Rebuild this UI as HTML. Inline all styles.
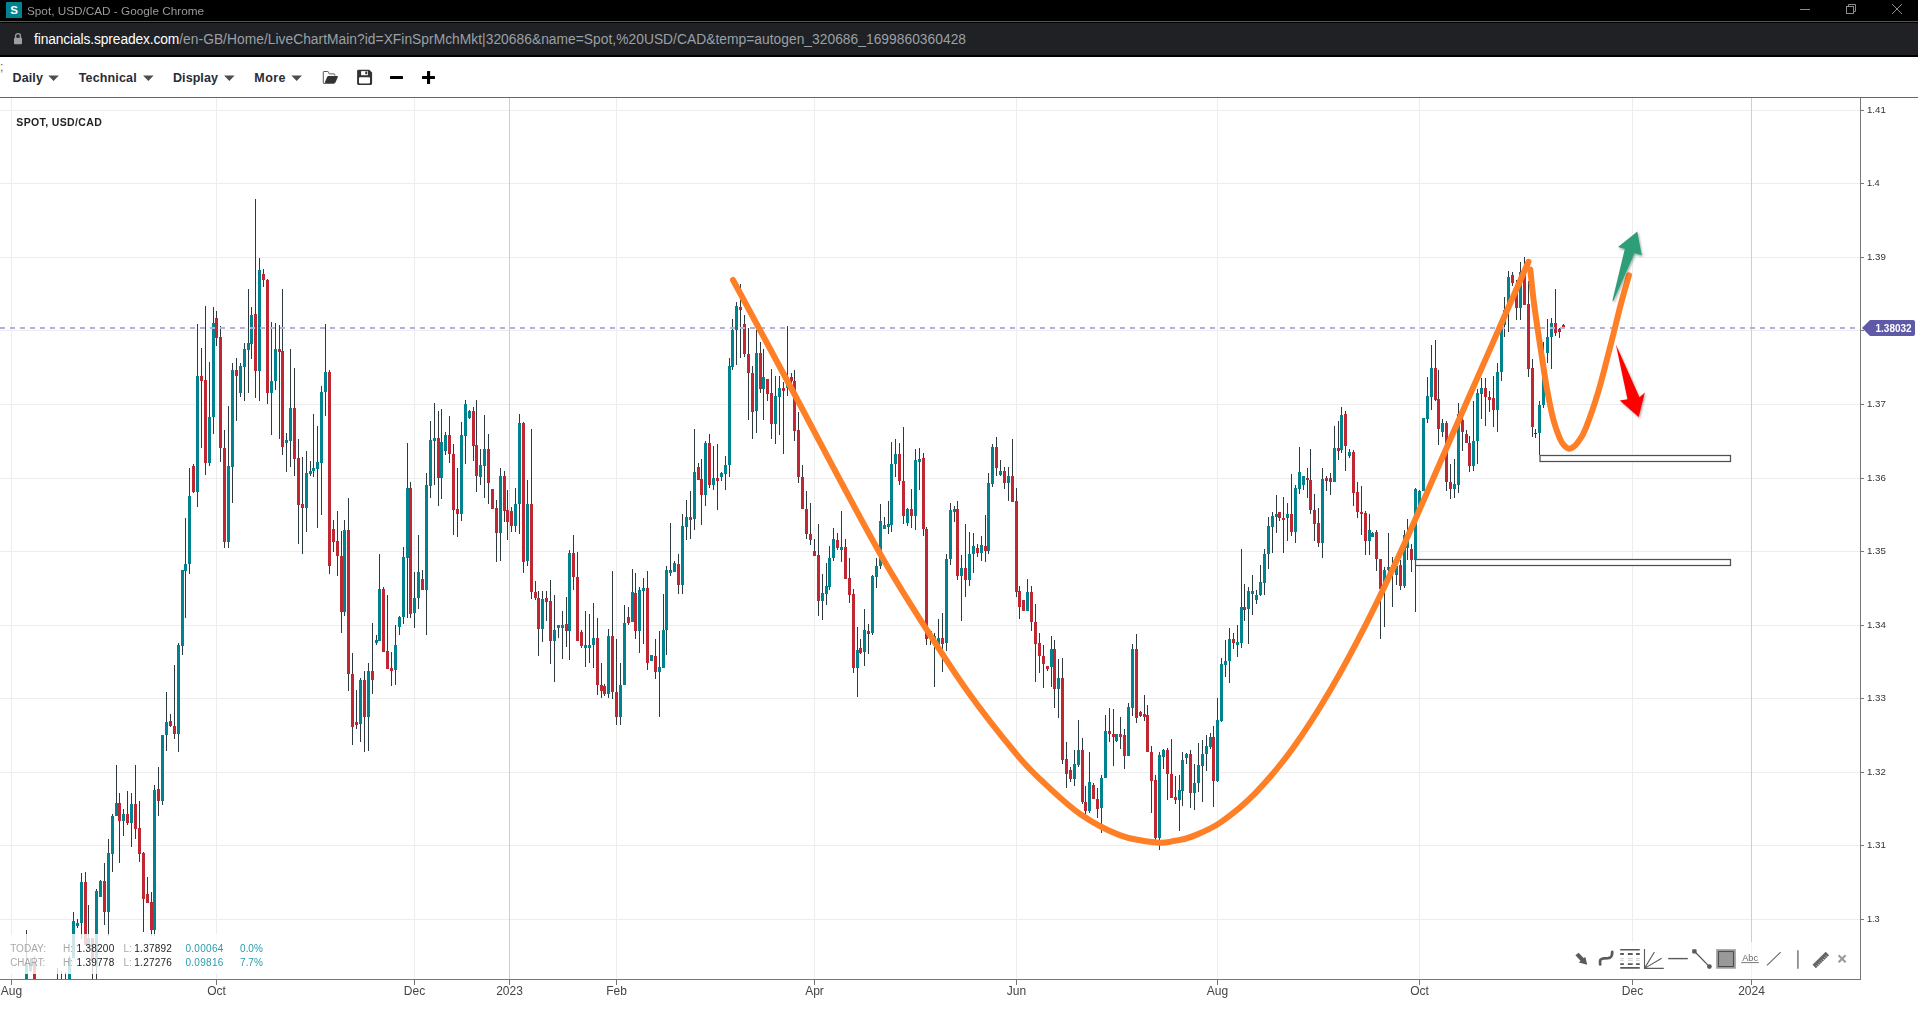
<!DOCTYPE html>
<html><head><meta charset="utf-8"><title>Spot, USD/CAD</title>
<style>
html,body{margin:0;padding:0}
body{width:1918px;height:1012px;overflow:hidden;background:#fff;position:relative;font-family:"Liberation Sans",sans-serif}
.abs{position:absolute;white-space:nowrap}
#tb{left:0;top:0;width:1918px;height:21px;background:#000}
#tl{left:0;top:21px;width:1918px;height:1px;background:#555}
#ab{left:0;top:22px;width:1918px;height:35px;background:#000}
#ab2{left:0;top:23px;width:1918px;height:32px;background:#202124}
#fav{left:6px;top:2px;width:16px;height:16px;background:#00838f;color:#fff;font-weight:bold;font-size:11.5px;line-height:16.5px;text-align:center}
#ttl{left:27px;top:3px;font-size:11.75px;line-height:15px;color:#9b9b9b}
#url{left:34px;top:30px;font-size:13.81px;line-height:18px;color:#9aa0a6}
#url b{font-weight:normal;color:#fff;letter-spacing:-0.12px}#url{letter-spacing:0.027px}
.mi{top:70px;font-size:12.5px;line-height:16px;font-weight:bold;color:#2b2b33}
.ar{top:76px;width:0;height:0;border-left:4.6px solid transparent;border-right:4.6px solid transparent;border-top:5.6px solid #555}
#tbl{left:0;top:97px;width:1918px;height:1px;background:#666}
#ct{left:16.2px;top:115px;letter-spacing:0.35px;font-size:10.5px;line-height:14px;font-weight:bold;color:#222}
.inf{font-size:10px;line-height:12px}
</style></head><body>
<div class="abs" id="tb"></div><div class="abs" id="tl"></div><div class="abs" id="ab"></div><div class="abs" id="ab2"></div>
<div class="abs" id="fav">S</div>
<svg class="abs" style="left:13px;top:32px" width="10" height="13" viewBox="0 0 10 13"><path d="M2.6 6V4A2.4 2.4 0 0 1 7.4 4V6" fill="none" stroke="#9aa0a6" stroke-width="1.4"/><rect x="1" y="5.8" width="8" height="6.4" rx="0.9" fill="#9aa0a6"/></svg>
<div class="abs" id="url"><b>financials.spreadex.com</b>/en-GB/Home/LiveChartMain?id=XFinSprMchMkt|320686&amp;name=Spot,%20USD/CAD&amp;temp=autogen_320686_1699860360428</div>
<div class="abs" style="left:0;top:60px;font-size:12px;line-height:14px;color:#7a4a2a">;</div>
<div class="abs mi" id="m1" style="left:12.5px;letter-spacing:0.12px">Daily</div>
<div class="abs mi" id="m2" style="left:78.7px;letter-spacing:0.16px">Technical</div>
<div class="abs mi" id="m3" style="left:173px;letter-spacing:0.07px">Display</div>
<div class="abs mi" id="m4" style="left:254.3px;letter-spacing:0.42px">More</div>
<div class="abs" id="tbl"></div>
<svg width="1918" height="1012" viewBox="0 0 1918 1012" style="position:absolute;left:0;top:0;will-change:transform" font-family="Liberation Sans, sans-serif">
<defs><clipPath id="cp"><rect x="0" y="98" width="1860" height="881"/></clipPath></defs>
<path d="M0 110.5H1860" stroke="#ededed" stroke-width="1"/>
<path d="M0 183.5H1860" stroke="#ededed" stroke-width="1"/>
<path d="M0 257.5H1860" stroke="#ededed" stroke-width="1"/>
<path d="M0 330.5H1860" stroke="#ededed" stroke-width="1"/>
<path d="M0 404.5H1860" stroke="#ededed" stroke-width="1"/>
<path d="M0 478.5H1860" stroke="#ededed" stroke-width="1"/>
<path d="M0 551.5H1860" stroke="#ededed" stroke-width="1"/>
<path d="M0 625.5H1860" stroke="#ededed" stroke-width="1"/>
<path d="M0 698.5H1860" stroke="#ededed" stroke-width="1"/>
<path d="M0 772.5H1860" stroke="#ededed" stroke-width="1"/>
<path d="M0 845.5H1860" stroke="#ededed" stroke-width="1"/>
<path d="M0 919.5H1860" stroke="#ededed" stroke-width="1"/>
<path d="M11.5 98V979" stroke="#ededed" stroke-width="1"/>
<path d="M216.5 98V979" stroke="#ededed" stroke-width="1"/>
<path d="M414.5 98V979" stroke="#ededed" stroke-width="1"/>
<path d="M509.5 98V979" stroke="#cfcfcf" stroke-width="1"/>
<path d="M616.5 98V979" stroke="#ededed" stroke-width="1"/>
<path d="M814.5 98V979" stroke="#ededed" stroke-width="1"/>
<path d="M1016.5 98V979" stroke="#ededed" stroke-width="1"/>
<path d="M1217.5 98V979" stroke="#ededed" stroke-width="1"/>
<path d="M1419.5 98V979" stroke="#ededed" stroke-width="1"/>
<path d="M1632.5 98V979" stroke="#ededed" stroke-width="1"/>
<path d="M1751.5 98V979" stroke="#cfcfcf" stroke-width="1"/>
<g clip-path="url(#cp)" shape-rendering="crispEdges">
<path d="M26.5 930.0V990.0M30.5 958.0V972.0M34.5 955.5V990.0M57.5 967.5V990.0M61.5 970.5V990.0M65.5 971.5V990.0M69.5 955.5V990.0M73.5 912.2V957.5M77.5 919.2V927.7M81.5 873.0V938.5M85.5 872.0V944.5M88.5 905.0V948.5M92.5 938.4V990.0M96.5 889.1V990.0M100.5 879.5V896.5M104.5 863.0V924.6M108.5 839.0V936.4M112.5 813.9V872.0M116.5 765.1V815.9M119.5 793.2V862.8M123.5 808.9V835.9M127.5 790.8V824.7M131.5 792.8V847.0M135.5 765.1V839.0M139.5 800.8V861.8M143.5 851.8V931.6M147.5 877.1V903.0M151.5 892.1V936.4M154.5 784.8V936.4M158.5 767.1V815.9M162.5 735.0V805.2M166.5 692.1V750.7M170.5 714.2V726.6M174.5 665.0V738.6M178.5 642.9V751.7M182.5 570.1V655.0M185.5 518.2V617.8M189.5 468.0V573.7M193.5 464.4V493.1M197.5 324.0V507.1M201.5 348.1V448.0M205.5 306.0V475.0M209.5 362.1V466.0M213.5 307.0V433.9M216.5 311.0V346.1M220.5 326.0V461.8M224.5 429.9V547.6M228.5 405.8V547.6M232.5 363.1V503.1M236.5 358.1V420.9M240.5 363.2V396.8M244.5 343.1V400.8M248.5 288.9V392.8M251.5 307.0V359.1M255.5 199.0V397.8M259.5 257.8V400.8M263.5 268.9V286.9M267.5 278.9V403.8M271.5 322.0V434.9M275.5 323.0V389.7M279.5 325.0V438.9M282.5 288.9V455.0M286.5 432.9V471.8M290.5 349.0V467.0M294.5 368.1V475.8M298.5 438.9V544.4M302.5 457.0V553.6M306.5 451.0V531.6M310.5 461.0V476.0M313.5 413.8V477.0M317.5 425.9V528.0M321.5 385.8V515.2M325.5 324.0V415.9M329.5 370.1V573.7M333.5 520.2V551.6M337.5 511.2V575.7M341.5 531.2V632.9M344.5 520.2V615.8M348.5 498.1V690.9M352.5 653.0V744.6M356.5 690.1V728.6M360.5 678.4V741.6M364.5 671.0V751.7M368.5 663.0V750.7M372.5 622.9V694.1M376.5 634.9V644.9M379.5 554.0V640.9M383.5 587.2V652.0M387.5 595.2V669.0M391.5 652.0V686.1M395.5 624.9V684.9M399.5 615.8V634.9M403.5 547.0V623.9M407.5 442.9V618.3M410.5 482.1V618.3M414.5 571.7V627.9M418.5 535.2V608.8M422.5 570.1V589.8M426.5 473.0V634.9M430.5 420.9V498.1M434.5 402.8V485.1M438.5 410.8V506.1M441.5 408.8V499.1M445.5 431.9V455.0M449.5 415.9V463.0M453.5 443.9V535.2M457.5 468.0V537.2M461.5 421.9V521.2M465.5 399.8V464.0M469.5 410.2V418.9M473.5 406.8V461.0M476.5 399.8V492.1M480.5 449.0V485.1M484.5 414.7V498.0M488.5 433.8V504.0M492.5 489.0V509.0M496.5 500.0V562.2M500.5 467.9V561.2M504.5 470.9V522.0M507.5 490.0V540.1M511.5 507.0V532.1M515.5 488.0V532.1M519.5 414.1V534.1M523.5 421.7V573.2M527.5 479.9V566.2M531.5 428.8V598.8M535.5 580.7V599.8M538.5 590.8V656.0M542.5 590.8V641.9M546.5 590.8V620.9M550.5 579.7V664.0M554.5 594.8V682.1M558.5 624.9V637.9M562.5 610.8V659.0M566.5 596.8V646.9M569.5 549.6V660.0M573.5 535.1V589.8M577.5 551.6V640.9M581.5 629.9V647.9M585.5 610.8V667.0M589.5 613.8V663.0M593.5 602.8V668.0M597.5 617.8V694.9M601.5 663.0V698.1M604.5 684.1V696.1M608.5 628.9V698.1M612.5 570.7V699.1M616.5 638.9V725.2M620.5 663.0V725.2M624.5 604.8V685.1M628.5 606.8V624.9M632.5 568.7V621.9M635.5 572.7V638.9M639.5 586.8V653.0M643.5 577.7V643.9M647.5 570.7V670.0M651.5 655.0V661.0M655.5 638.9V679.0M659.5 630.9V717.2M663.5 593.8V668.0M666.5 565.7V655.0M670.5 523.1V575.7M674.5 560.6V571.7M678.5 553.6V593.8M682.5 514.0V593.8M686.5 500.0V540.1M690.5 491.0V539.1M694.5 428.8V530.1M698.5 462.9V479.9M701.5 458.9V525.1M705.5 440.8V506.0M709.5 433.8V487.9M713.5 445.8V490.0M717.5 443.8V510.0M721.5 471.9V480.9M725.5 455.8V490.0M729.5 357.9V476.9M732.5 318.8V370.0M736.5 301.8V365.0M740.5 283.7V357.9M744.5 314.8V356.9M748.5 327.8V420.1M752.5 366.0V439.2M756.5 329.9V433.2M760.5 341.9V393.1M763.5 348.9V420.1M767.5 379.0V401.1M771.5 369.0V439.2M775.5 376.0V444.2M779.5 376.0V435.2M783.5 382.0V453.8M787.5 325.8V396.1M791.5 373.0V383.0M794.5 370.0V441.2M798.5 412.1V482.9M802.5 464.9V509.0M806.5 491.0V539.1M810.5 503.0V545.1M814.5 539.1V556.2M818.5 524.1V615.8M822.5 573.7V619.9M826.5 562.7V604.8M829.5 545.6V589.8M833.5 528.1V560.7M837.5 533.1V550.1M841.5 511.0V562.2M845.5 539.1V578.7M849.5 557.7V602.8M853.5 588.6V672.9M857.5 626.8V697.0M860.5 638.8V653.8M864.5 608.7V665.9M868.5 623.7V653.8M872.5 575.1V634.8M876.5 558.0V588.1M880.5 503.9V569.1M884.5 516.9V528.9M888.5 500.9V534.0M891.5 441.7V532.0M895.5 438.7V476.8M899.5 442.7V484.8M903.5 426.6V523.9M907.5 507.9V525.9M911.5 488.8V527.9M915.5 448.7V530.0M919.5 447.7V489.8M923.5 452.7V536.0M926.5 526.9V644.8M930.5 630.8V644.8M934.5 632.8V686.9M938.5 618.7V644.8M942.5 612.7V671.9M946.5 554.0V650.8M950.5 502.9V565.1M954.5 505.9V521.9M957.5 500.9V580.1M961.5 555.0V621.2M965.5 523.9V597.2M969.5 532.0V586.1M973.5 533.0V573.1M977.5 544.0V557.0M981.5 536.0V561.1M985.5 514.9V562.1M988.5 472.8V554.0M992.5 443.7V486.8M996.5 436.7V475.8M1000.5 459.7V475.8M1004.5 466.8V488.8M1008.5 466.8V500.9M1012.5 438.7V501.9M1016.5 487.8V597.2M1019.5 586.1V619.2M1023.5 600.2V611.2M1027.5 579.1V611.2M1031.5 586.1V630.8M1035.5 603.7V681.9M1039.5 632.8V672.9M1043.5 644.8V687.9M1047.5 665.9V670.9M1051.5 635.8V686.9M1054.5 639.8V708.0M1058.5 658.9V718.0M1062.5 657.8V764.2M1066.5 741.7V787.9M1070.5 767.2V782.2M1074.5 749.8V785.9M1078.5 719.7V766.8M1082.5 737.7V803.9M1085.5 785.9V815.0M1089.5 751.8V813.0M1093.5 782.9V798.9M1097.5 787.9V818.0M1101.5 774.8V833.0M1105.5 714.6V777.8M1109.5 707.6V741.7M1113.5 708.6V765.8M1116.5 733.7V741.7M1120.5 716.7V748.8M1124.5 728.7V768.8M1128.5 702.6V755.8M1132.5 643.8V715.7M1136.5 633.8V722.7M1140.5 711.0V716.7M1144.5 695.0V720.7M1147.5 704.6V751.8M1151.5 745.7V813.0M1155.5 774.8V840.0M1159.5 751.8V850.1M1163.5 748.8V768.8M1167.5 747.8V799.9M1171.5 738.7V797.9M1175.5 775.8V803.9M1179.5 774.8V831.0M1182.5 751.8V805.9M1186.5 752.8V763.8M1190.5 749.8V807.9M1194.5 763.8V810.0M1198.5 742.7V791.9M1202.5 739.7V801.9M1206.5 734.7V770.8M1210.5 732.7V748.8M1213.5 725.7V806.9M1217.5 698.0V781.9M1221.5 657.8V721.7M1225.5 640.0V677.2M1229.5 628.0V683.2M1233.5 633.0V649.1M1237.5 625.0V657.1M1241.5 548.8V648.1M1244.5 583.9V621.0M1248.5 586.9V644.1M1252.5 574.8V615.0M1256.5 589.9V603.9M1260.5 564.8V595.9M1264.5 548.8V594.9M1268.5 516.7V568.8M1272.5 511.6V552.8M1276.5 495.2V532.7M1279.5 511.6V520.7M1283.5 497.2V552.8M1287.5 502.6V540.7M1291.5 474.1V535.7M1295.5 485.1V542.7M1299.5 447.0V494.2M1303.5 476.1V490.1M1307.5 468.1V498.2M1310.5 449.0V514.2M1314.5 494.2V540.7M1318.5 508.2V546.7M1322.5 468.1V557.8M1326.5 476.1V491.1M1330.5 473.1V495.2M1334.5 425.9V482.1M1338.5 420.9V460.0M1341.5 406.9V453.0M1345.5 410.9V471.1M1349.5 449.0V458.0M1353.5 450.0V506.2M1357.5 482.1V517.7M1361.5 486.1V534.7M1365.5 510.6V554.8M1369.5 513.6V554.8M1372.5 531.7V536.7M1376.5 529.7V570.8M1380.5 558.8V639.0M1384.5 566.8V627.0M1388.5 532.7V575.0M1392.5 556.8V606.9M1396.5 560.0V585.0M1400.5 560.0V590.0M1404.5 529.7V587.9M1407.5 518.7V560.0M1411.5 543.7V571.8M1415.5 488.1V612.0M1419.5 490.1V505.6M1423.5 417.9V491.1M1427.5 376.8V422.9M1431.5 344.7V409.9M1435.5 339.7V400.9M1438.5 369.8V445.0M1442.5 418.9V437.0M1446.5 420.9V491.1M1450.5 464.1V499.2M1454.5 459.0V498.2M1458.5 402.9V493.2M1462.5 410.0V451.0M1466.5 430.0V443.0M1469.5 436.0V472.1M1473.5 400.9V471.1M1477.5 388.8V464.1M1481.5 377.8V418.9M1485.5 377.8V425.9M1489.5 390.8V411.9M1493.5 375.8V427.0M1497.5 362.7V432.0M1501.5 323.0V380.8M1504.5 296.9V337.0M1508.5 270.8V332.0M1512.5 272.0V285.8M1516.5 280.0V319.9M1520.5 261.8V319.9M1524.5 256.7V304.9M1528.5 281.2V377.1M1532.5 358.7V437.0M1535.5 429.0V438.0M1539.5 400.9V455.4M1543.5 342.0V408.2M1547.5 318.9V363.1M1551.5 317.9V369.1M1555.5 288.8V336.0M1559.5 328.0V338.0M1563.5 323.6V328.0" stroke="#2d3a40" stroke-width="1.2" fill="none"/>
<path d="M25 964.5h3V990.0h-3zM29 963.5h3V970.5h-3zM56 985.0h3V990.0h-3zM60 985.0h3V990.0h-3zM64 985.0h3V990.0h-3zM68 957.5h3V990.0h-3zM72 921.0h3V957.5h-3zM76 923.0h3V925.6h-3zM80 882.0h3V923.0h-3zM87 938.4h3V948.5h-3zM95 890.5h3V966.5h-3zM99 880.9h3V896.5h-3zM107 853.0h3V912.2h-3zM111 815.9h3V853.8h-3zM115 803.2h3V815.9h-3zM122 813.9h3V820.7h-3zM130 803.8h3V822.7h-3zM153 789.8h3V929.6h-3zM161 735.0h3V800.8h-3zM165 722.2h3V735.0h-3zM177 644.9h3V733.6h-3zM181 570.1h3V645.9h-3zM184 564.0h3V571.0h-3zM188 496.1h3V564.0h-3zM196 376.2h3V492.1h-3zM208 416.9h3V463.0h-3zM212 323.0h3V416.9h-3zM227 466.0h3V542.4h-3zM231 370.1h3V467.0h-3zM239 366.0h3V392.8h-3zM243 349.1h3V366.6h-3zM247 343.1h3V349.5h-3zM250 315.0h3V343.9h-3zM258 269.9h3V370.6h-3zM270 381.1h3V392.8h-3zM274 349.1h3V380.7h-3zM285 439.9h3V442.9h-3zM289 407.8h3V440.9h-3zM305 473.0h3V508.0h-3zM309 471.0h3V474.0h-3zM312 468.0h3V471.0h-3zM316 462.0h3V469.0h-3zM320 391.8h3V463.0h-3zM324 371.9h3V391.7h-3zM343 530.2h3V611.8h-3zM359 680.0h3V724.2h-3zM367 671.0h3V717.0h-3zM375 639.9h3V643.3h-3zM378 588.8h3V640.9h-3zM394 644.9h3V670.0h-3zM398 616.8h3V626.9h-3zM402 557.0h3V616.8h-3zM406 488.1h3V557.7h-3zM413 598.2h3V612.8h-3zM417 572.1h3V598.2h-3zM425 485.1h3V589.8h-3zM429 439.9h3V486.1h-3zM433 437.9h3V440.9h-3zM440 441.9h3V478.1h-3zM444 434.9h3V451.0h-3zM460 434.9h3V514.0h-3zM464 403.8h3V435.9h-3zM468 410.8h3V417.9h-3zM479 465.0h3V477.0h-3zM483 448.8h3V465.9h-3zM499 475.9h3V532.9h-3zM514 504.0h3V526.0h-3zM518 422.7h3V504.0h-3zM526 504.0h3V561.2h-3zM541 598.8h3V628.9h-3zM553 629.9h3V640.9h-3zM557 624.9h3V627.9h-3zM561 624.9h3V627.9h-3zM568 552.6h3V630.9h-3zM584 644.9h3V647.9h-3zM588 644.9h3V647.9h-3zM592 637.9h3V644.9h-3zM607 635.9h3V694.1h-3zM619 685.1h3V717.2h-3zM623 622.9h3V685.1h-3zM631 591.8h3V621.9h-3zM638 589.8h3V630.9h-3zM642 587.8h3V590.8h-3zM650 655.0h3V661.0h-3zM658 667.0h3V672.0h-3zM662 629.9h3V668.0h-3zM665 569.7h3V629.9h-3zM669 569.7h3V572.7h-3zM673 562.7h3V571.7h-3zM681 526.1h3V584.7h-3zM685 517.0h3V527.1h-3zM693 471.9h3V519.0h-3zM704 442.8h3V495.0h-3zM712 477.9h3V484.9h-3zM720 472.9h3V476.9h-3zM724 464.9h3V473.9h-3zM728 366.0h3V464.9h-3zM731 329.9h3V367.0h-3zM735 305.8h3V329.9h-3zM755 352.9h3V411.1h-3zM762 377.0h3V389.0h-3zM774 396.1h3V424.2h-3zM778 388.0h3V397.1h-3zM786 377.0h3V388.4h-3zM821 592.8h3V600.8h-3zM825 585.7h3V593.8h-3zM828 557.7h3V586.8h-3zM832 539.1h3V557.7h-3zM840 547.1h3V550.1h-3zM856 649.8h3V667.9h-3zM863 629.8h3V651.8h-3zM871 576.1h3V632.8h-3zM875 566.1h3V577.1h-3zM879 520.9h3V566.1h-3zM883 524.9h3V528.9h-3zM887 523.9h3V526.9h-3zM890 463.7h3V524.9h-3zM894 453.7h3V463.7h-3zM906 508.9h3V522.9h-3zM914 459.7h3V515.9h-3zM918 458.7h3V461.7h-3zM933 636.0h3V643.0h-3zM937 637.8h3V644.8h-3zM945 559.0h3V642.8h-3zM949 509.9h3V559.0h-3zM953 508.9h3V511.9h-3zM960 568.1h3V576.1h-3zM968 554.0h3V580.1h-3zM972 546.0h3V554.0h-3zM980 545.0h3V553.0h-3zM987 482.8h3V551.0h-3zM991 446.7h3V483.8h-3zM999 470.8h3V474.8h-3zM1007 475.8h3V482.8h-3zM1026 592.2h3V611.2h-3zM1050 648.8h3V666.9h-3zM1057 677.9h3V688.9h-3zM1073 763.8h3V778.9h-3zM1077 749.8h3V764.8h-3zM1088 781.9h3V811.0h-3zM1100 777.8h3V807.9h-3zM1104 730.7h3V777.8h-3zM1115 733.7h3V740.7h-3zM1127 706.6h3V755.8h-3zM1131 648.8h3V707.6h-3zM1158 754.8h3V838.0h-3zM1162 749.8h3V756.8h-3zM1178 789.9h3V799.9h-3zM1181 759.8h3V790.9h-3zM1185 753.8h3V757.8h-3zM1193 782.9h3V792.9h-3zM1197 764.8h3V782.9h-3zM1201 753.8h3V765.8h-3zM1205 745.7h3V753.8h-3zM1209 736.7h3V746.7h-3zM1216 719.7h3V780.9h-3zM1220 663.9h3V720.7h-3zM1224 661.1h3V665.1h-3zM1228 639.0h3V661.1h-3zM1236 642.0h3V645.0h-3zM1240 606.9h3V643.0h-3zM1247 590.9h3V609.0h-3zM1251 590.9h3V593.9h-3zM1255 594.9h3V599.9h-3zM1259 581.9h3V594.9h-3zM1263 553.8h3V582.9h-3zM1267 525.7h3V553.8h-3zM1271 515.7h3V526.7h-3zM1275 513.6h3V516.7h-3zM1286 513.6h3V517.7h-3zM1294 488.1h3V531.7h-3zM1298 472.1h3V489.1h-3zM1302 476.1h3V485.1h-3zM1321 479.1h3V542.7h-3zM1333 448.0h3V482.1h-3zM1340 414.9h3V450.0h-3zM1348 452.0h3V456.0h-3zM1368 529.7h3V540.7h-3zM1371 532.7h3V536.7h-3zM1383 569.8h3V588.9h-3zM1387 566.8h3V569.8h-3zM1395 566.0h3V575.0h-3zM1403 534.7h3V585.9h-3zM1406 540.0h3V548.0h-3zM1414 489.1h3V559.8h-3zM1418 491.1h3V505.6h-3zM1422 417.9h3V491.1h-3zM1426 395.8h3V418.9h-3zM1430 367.8h3V396.8h-3zM1441 422.9h3V432.0h-3zM1453 484.1h3V489.1h-3zM1457 413.9h3V485.1h-3zM1472 441.0h3V466.1h-3zM1476 392.8h3V441.0h-3zM1480 387.8h3V393.8h-3zM1496 371.8h3V409.9h-3zM1500 328.6h3V371.8h-3zM1503 310.0h3V325.0h-3zM1507 276.8h3V310.0h-3zM1519 272.2h3V307.9h-3zM1538 404.9h3V433.0h-3zM1542 375.5h3V404.9h-3zM1546 337.0h3V353.0h-3zM1550 322.9h3V337.0h-3z" fill="#00838f"/>
<path d="M33 960.5h3V990.0h-3zM84 882.0h3V944.5h-3zM91 938.4h3V960.5h-3zM103 880.9h3V912.2h-3zM118 803.2h3V820.7h-3zM126 814.3h3V822.7h-3zM134 803.8h3V828.7h-3zM138 828.3h3V853.8h-3zM142 852.8h3V898.9h-3zM146 894.1h3V903.0h-3zM150 902.1h3V929.6h-3zM157 788.8h3V800.8h-3zM169 721.2h3V725.6h-3zM173 726.2h3V733.6h-3zM192 466.0h3V492.1h-3zM200 376.2h3V380.6h-3zM204 380.2h3V463.0h-3zM215 318.0h3V338.1h-3zM219 337.1h3V448.0h-3zM223 448.0h3V542.4h-3zM235 370.2h3V375.9h-3zM254 314.0h3V370.6h-3zM262 274.3h3V279.9h-3zM266 279.9h3V392.8h-3zM278 349.1h3V351.6h-3zM281 351.1h3V447.0h-3zM293 407.8h3V459.0h-3zM297 458.0h3V504.5h-3zM301 504.1h3V508.0h-3zM328 372.1h3V565.7h-3zM332 529.2h3V541.6h-3zM336 541.0h3V555.7h-3zM340 556.0h3V611.8h-3zM347 530.2h3V674.0h-3zM351 674.0h3V727.0h-3zM355 722.2h3V724.6h-3zM363 680.0h3V717.0h-3zM371 671.0h3V680.0h-3zM382 588.8h3V652.0h-3zM386 651.0h3V669.0h-3zM390 668.4h3V670.8h-3zM409 488.1h3V613.8h-3zM421 579.1h3V589.8h-3zM437 437.9h3V478.1h-3zM448 434.9h3V454.0h-3zM452 454.0h3V510.0h-3zM456 509.0h3V514.0h-3zM472 410.8h3V446.0h-3zM475 444.9h3V476.0h-3zM487 448.8h3V482.9h-3zM491 489.0h3V509.0h-3zM495 508.0h3V532.9h-3zM503 475.9h3V510.8h-3zM506 510.0h3V522.0h-3zM510 511.0h3V526.0h-3zM522 422.7h3V562.2h-3zM530 504.0h3V591.8h-3zM534 591.8h3V597.8h-3zM537 597.8h3V628.9h-3zM545 597.8h3V601.8h-3zM549 600.8h3V640.9h-3zM565 623.9h3V630.9h-3zM572 552.6h3V576.7h-3zM576 576.7h3V640.9h-3zM580 631.9h3V645.9h-3zM596 637.9h3V684.9h-3zM600 685.1h3V691.1h-3zM603 686.1h3V694.1h-3zM611 635.9h3V692.1h-3zM615 692.1h3V717.2h-3zM627 616.8h3V622.9h-3zM634 592.8h3V630.9h-3zM646 587.8h3V663.0h-3zM654 656.0h3V672.0h-3zM677 563.7h3V584.7h-3zM689 517.4h3V520.0h-3zM697 466.9h3V479.9h-3zM700 478.9h3V495.0h-3zM708 442.8h3V484.9h-3zM716 477.9h3V480.9h-3zM739 307.2h3V309.8h-3zM743 323.8h3V353.9h-3zM747 353.9h3V373.0h-3zM751 373.0h3V412.1h-3zM759 352.9h3V389.0h-3zM766 379.0h3V394.1h-3zM770 393.1h3V424.2h-3zM782 388.0h3V391.0h-3zM790 377.0h3V381.0h-3zM793 381.0h3V431.2h-3zM797 430.2h3V476.9h-3zM801 476.9h3V509.0h-3zM805 509.0h3V534.1h-3zM809 534.1h3V540.1h-3zM813 551.1h3V556.2h-3zM817 555.2h3V600.8h-3zM836 540.1h3V548.1h-3zM844 547.1h3V578.7h-3zM848 577.7h3V594.8h-3zM852 594.0h3V667.9h-3zM859 647.8h3V652.8h-3zM867 631.2h3V633.8h-3zM898 453.7h3V480.8h-3zM902 480.8h3V515.9h-3zM910 508.9h3V515.9h-3zM922 457.7h3V528.9h-3zM925 528.9h3V638.8h-3zM929 631.2h3V634.2h-3zM941 637.8h3V643.8h-3zM956 508.9h3V576.1h-3zM964 568.1h3V580.1h-3zM976 548.0h3V553.0h-3zM984 546.0h3V551.0h-3zM995 446.7h3V467.8h-3zM1003 470.8h3V482.8h-3zM1011 475.8h3V501.9h-3zM1015 500.9h3V592.2h-3zM1018 591.2h3V607.2h-3zM1022 600.2h3V611.2h-3zM1030 592.2h3V622.2h-3zM1034 621.7h3V643.8h-3zM1038 642.8h3V655.8h-3zM1042 655.8h3V663.9h-3zM1046 665.9h3V668.9h-3zM1053 648.8h3V688.9h-3zM1061 677.9h3V760.2h-3zM1065 758.8h3V773.8h-3zM1069 769.8h3V778.9h-3zM1081 749.8h3V801.9h-3zM1084 801.9h3V811.0h-3zM1092 784.9h3V798.9h-3zM1096 798.9h3V809.0h-3zM1108 731.1h3V733.7h-3zM1112 733.7h3V736.7h-3zM1119 734.1h3V736.7h-3zM1123 734.7h3V755.8h-3zM1135 648.8h3V717.7h-3zM1139 712.0h3V715.7h-3zM1143 713.6h3V716.7h-3zM1146 714.6h3V751.8h-3zM1150 751.8h3V780.9h-3zM1154 779.9h3V838.0h-3zM1166 749.8h3V773.8h-3zM1170 773.8h3V797.9h-3zM1174 796.9h3V799.9h-3zM1189 753.8h3V792.9h-3zM1212 736.7h3V780.9h-3zM1232 639.0h3V643.0h-3zM1243 607.3h3V610.0h-3zM1278 512.0h3V517.7h-3zM1282 517.7h3V519.7h-3zM1290 513.6h3V531.7h-3zM1306 477.5h3V480.1h-3zM1309 480.1h3V510.2h-3zM1313 510.2h3V523.7h-3zM1317 522.7h3V542.7h-3zM1325 478.1h3V481.1h-3zM1329 478.1h3V482.1h-3zM1337 448.4h3V451.0h-3zM1344 413.9h3V446.0h-3zM1352 452.0h3V493.2h-3zM1356 492.2h3V512.2h-3zM1360 511.6h3V513.6h-3zM1364 512.6h3V540.7h-3zM1375 531.7h3V558.8h-3zM1379 558.8h3V588.9h-3zM1391 565.0h3V570.0h-3zM1399 564.8h3V585.9h-3zM1410 548.8h3V559.8h-3zM1434 367.8h3V399.9h-3zM1437 398.9h3V429.0h-3zM1445 422.9h3V482.1h-3zM1449 482.1h3V489.1h-3zM1461 419.9h3V432.0h-3zM1465 434.0h3V443.0h-3zM1468 443.0h3V466.1h-3zM1484 387.8h3V396.8h-3zM1488 396.8h3V399.9h-3zM1492 397.8h3V409.9h-3zM1511 274.8h3V282.8h-3zM1515 285.0h3V307.9h-3zM1523 269.2h3V304.9h-3zM1527 303.9h3V369.1h-3zM1531 367.8h3V427.0h-3zM1554 322.9h3V333.0h-3zM1558 329.0h3V332.0h-3zM1562 325.0h3V328.0h-3z" fill="#bf2833"/>
<path d="M1534 432.5h3V433.5h-3z" fill="#2d3a40"/>
</g>
<rect x="0" y="934" width="275" height="40" fill="#fff" fill-opacity="0.8"/>
<rect x="1570" y="942" width="284" height="37" fill="#fff" fill-opacity="0.75"/>
<path d="M0 979.5H1861M1860.5 98V980" stroke="#777" stroke-width="1" fill="none"/>
<path d="M1860 110.5H1864" stroke="#777" stroke-width="1"/>
<text x="1866.9" y="112.8" font-size="9.1" fill="#333" textLength="18.9" lengthAdjust="spacingAndGlyphs">1.41</text>
<path d="M1860 183.5H1864" stroke="#777" stroke-width="1"/>
<text x="1866.9" y="185.8" font-size="9.1" fill="#333" textLength="12.9" lengthAdjust="spacingAndGlyphs">1.4</text>
<path d="M1860 257.5H1864" stroke="#777" stroke-width="1"/>
<text x="1866.9" y="259.8" font-size="9.1" fill="#333" textLength="18.9" lengthAdjust="spacingAndGlyphs">1.39</text>
<path d="M1860 330.5H1864" stroke="#777" stroke-width="1"/>
<path d="M1860 404.5H1864" stroke="#777" stroke-width="1"/>
<text x="1866.9" y="406.8" font-size="9.1" fill="#333" textLength="18.9" lengthAdjust="spacingAndGlyphs">1.37</text>
<path d="M1860 478.5H1864" stroke="#777" stroke-width="1"/>
<text x="1866.9" y="480.8" font-size="9.1" fill="#333" textLength="18.9" lengthAdjust="spacingAndGlyphs">1.36</text>
<path d="M1860 551.5H1864" stroke="#777" stroke-width="1"/>
<text x="1866.9" y="553.8" font-size="9.1" fill="#333" textLength="18.9" lengthAdjust="spacingAndGlyphs">1.35</text>
<path d="M1860 625.5H1864" stroke="#777" stroke-width="1"/>
<text x="1866.9" y="627.8" font-size="9.1" fill="#333" textLength="18.9" lengthAdjust="spacingAndGlyphs">1.34</text>
<path d="M1860 698.5H1864" stroke="#777" stroke-width="1"/>
<text x="1866.9" y="700.8" font-size="9.1" fill="#333" textLength="18.9" lengthAdjust="spacingAndGlyphs">1.33</text>
<path d="M1860 772.5H1864" stroke="#777" stroke-width="1"/>
<text x="1866.9" y="774.8" font-size="9.1" fill="#333" textLength="18.9" lengthAdjust="spacingAndGlyphs">1.32</text>
<path d="M1860 845.5H1864" stroke="#777" stroke-width="1"/>
<text x="1866.9" y="847.8" font-size="9.1" fill="#333" textLength="18.9" lengthAdjust="spacingAndGlyphs">1.31</text>
<path d="M1860 919.5H1864" stroke="#777" stroke-width="1"/>
<text x="1866.9" y="921.8" font-size="9.1" fill="#333" textLength="12.9" lengthAdjust="spacingAndGlyphs">1.3</text>
<path d="M11.5 979V985" stroke="#777" stroke-width="1"/>
<text x="11.5" y="995" font-size="12" fill="#444" text-anchor="middle">Aug</text>
<path d="M216.5 979V985" stroke="#777" stroke-width="1"/>
<text x="216.5" y="995" font-size="12" fill="#444" text-anchor="middle">Oct</text>
<path d="M414.5 979V985" stroke="#777" stroke-width="1"/>
<text x="414.5" y="995" font-size="12" fill="#444" text-anchor="middle">Dec</text>
<path d="M509.5 979V985" stroke="#777" stroke-width="1"/>
<text x="509.5" y="995" font-size="12" fill="#444" text-anchor="middle">2023</text>
<path d="M616.5 979V985" stroke="#777" stroke-width="1"/>
<text x="616.5" y="995" font-size="12" fill="#444" text-anchor="middle">Feb</text>
<path d="M814.5 979V985" stroke="#777" stroke-width="1"/>
<text x="814.5" y="995" font-size="12" fill="#444" text-anchor="middle">Apr</text>
<path d="M1016.5 979V985" stroke="#777" stroke-width="1"/>
<text x="1016.5" y="995" font-size="12" fill="#444" text-anchor="middle">Jun</text>
<path d="M1217.5 979V985" stroke="#777" stroke-width="1"/>
<text x="1217.5" y="995" font-size="12" fill="#444" text-anchor="middle">Aug</text>
<path d="M1419.5 979V985" stroke="#777" stroke-width="1"/>
<text x="1419.5" y="995" font-size="12" fill="#444" text-anchor="middle">Oct</text>
<path d="M1632.5 979V985" stroke="#777" stroke-width="1"/>
<text x="1632.5" y="995" font-size="12" fill="#444" text-anchor="middle">Dec</text>
<path d="M1751.5 979V985" stroke="#777" stroke-width="1"/>
<text x="1751.5" y="995" font-size="12" fill="#444" text-anchor="middle">2024</text>
<!-- dashed current price line -->
<path d="M0 328H1860" stroke="#b3b0dc" stroke-width="2" stroke-dasharray="5 5" fill="none"/>
<!-- price tag -->
<path d="M1862 328L1870 320H1913Q1915 320 1915 322V334Q1915 336 1913 336H1870Z" fill="#5f5aa8"/>
<text x="1875.5" y="331.7" font-size="10" font-weight="bold" fill="#fff">1.38032</text>
<!-- rectangles -->
<rect x="1540" y="455.5" width="190.5" height="6" fill="#fff" stroke="#505050" stroke-width="1.25"/>
<rect x="1415.5" y="559.5" width="315" height="6" fill="#fff" stroke="#505050" stroke-width="1.25"/>
<!-- orange curves -->
<path d="M733.0 280.0C743.3 299.2 777.1 361.7 794.9 395.0C812.7 428.3 825.2 452.6 840.0 480.0C854.8 507.4 868.7 534.0 883.4 559.4C898.1 584.8 914.1 610.0 928.3 632.2C942.5 654.4 953.7 672.0 968.4 692.4C983.1 712.8 1004.4 739.6 1016.6 754.3C1028.8 769.0 1030.9 770.5 1041.5 780.5C1052.1 790.5 1067.0 804.9 1080.1 814.0C1093.2 823.1 1107.6 830.6 1120.3 835.4C1133.0 840.1 1147.3 841.6 1156.4 842.5C1165.5 843.4 1169.0 841.8 1175.0 840.8C1181.0 839.8 1184.9 839.5 1192.5 836.4C1200.1 833.3 1210.2 829.6 1220.6 822.4C1231.0 815.2 1243.1 805.7 1255.1 793.4C1267.1 781.1 1280.1 765.6 1292.6 748.4C1305.1 731.2 1317.7 711.5 1330.2 690.2C1342.7 668.9 1355.2 645.5 1367.7 620.8C1380.2 596.1 1392.1 570.6 1405.2 541.9C1418.3 513.2 1432.6 479.6 1446.3 448.5C1460.0 417.4 1473.7 386.2 1487.4 355.1C1501.1 324.0 1521.7 277.4 1528.5 261.8" stroke="#ff7f27" stroke-width="6" fill="none" stroke-linecap="round" stroke-linejoin="round"/>
<path d="M1530.3 269.5C1530.9 275.3 1532.4 291.1 1534.1 304.2C1535.8 317.3 1538.3 333.8 1540.5 347.9C1542.7 362.0 1544.8 377.0 1547.0 389.0C1549.2 401.0 1551.3 411.6 1553.4 419.8C1555.5 428.0 1558.0 434.1 1559.8 438.4C1561.6 442.7 1562.8 443.9 1564.3 445.6C1565.8 447.3 1567.1 448.6 1568.6 448.8C1570.1 449.0 1571.8 448.1 1573.3 447.0C1574.8 445.9 1575.8 445.4 1577.8 442.4C1579.8 439.4 1582.1 437.3 1585.5 428.8C1588.9 420.3 1594.0 406.0 1598.3 391.6C1602.6 377.2 1607.3 357.7 1611.2 342.7C1615.1 327.7 1618.5 312.8 1621.5 301.6C1624.5 290.4 1627.8 279.7 1629.0 275.3" stroke="#ff7f27" stroke-width="6" fill="none" stroke-linecap="round" stroke-linejoin="round"/>
<!-- arrows -->
<defs><filter id="sh" x="-30%" y="-30%" width="160%" height="160%"><feDropShadow dx="1" dy="1.5" stdDeviation="1" flood-color="#000" flood-opacity="0.35"/></filter></defs>
<path d="M1612.4 300.4L1624.8 249L1618 246.9L1637.3 231.4L1641.8 255.2L1634.6 253.2L1613.4 300.9Z" fill="#2e9e78" filter="url(#sh)"/>
<path d="M1615.9 344.4L1639.5 397.3L1644.9 392.4L1638.7 416.9L1619.8 400.5L1627.5 399.3Z" fill="#ff0000" filter="url(#sh)"/>

<!-- info panel text -->
<g font-size="10">
<text x="10.2" y="951.9" fill="#a8a8a8" textLength="35.8" lengthAdjust="spacingAndGlyphs">TODAY:</text>
<text x="63" y="951.9" fill="#a8a8a8">H:</text>
<text x="76.6" y="951.9" fill="#222" textLength="37.6" lengthAdjust="spacing">1.38200</text>
<text x="123.4" y="951.9" fill="#a8a8a8">L:</text>
<text x="134.3" y="951.9" fill="#222" textLength="37.6" lengthAdjust="spacing">1.37892</text>
<text x="185.4" y="951.9" fill="#2a9bab" textLength="38" lengthAdjust="spacing">0.00064</text>
<text x="240.1" y="951.9" fill="#2a9bab" textLength="22.7" lengthAdjust="spacing">0.0%</text>
<text x="10.2" y="965.7" fill="#a8a8a8" textLength="35.1" lengthAdjust="spacingAndGlyphs">CHART:</text>
<text x="63" y="965.7" fill="#a8a8a8">H:</text>
<text x="76.6" y="965.7" fill="#222" textLength="37.6" lengthAdjust="spacing">1.39778</text>
<text x="123.4" y="965.7" fill="#a8a8a8">L:</text>
<text x="134.3" y="965.7" fill="#222" textLength="37.6" lengthAdjust="spacing">1.27276</text>
<text x="185.4" y="965.7" fill="#2a9bab" textLength="38" lengthAdjust="spacing">0.09816</text>
<text x="240.1" y="965.7" fill="#2a9bab" textLength="22.7" lengthAdjust="spacing">7.7%</text>
</g>
<!-- toolbar icons -->
<g>
<path d="M323.3 83V72.2Q323.3 71.5 324 71.5H327.6Q328.4 71.5 328.6 72.3L328.9 73.4Q329 73.9 329.6 73.9H334Q334.8 73.9 334.8 74.7V75.6" fill="none" stroke="#444" stroke-width="0.9"/>
<path d="M323.3 83Q323.4 83.4 324 83.4H334.5" fill="none" stroke="#444" stroke-width="0.9"/>
<path d="M328.3 76.1H337.3Q338.2 76.1 337.8 77L335.6 82.2Q335.3 82.9 334.5 82.9H325.4Q324.6 82.9 325 82.1L327.2 76.8Q327.5 76.1 328.3 76.1Z" fill="#333"/>
<path d="M358.4 69.8H369.3L372.1 72.6V83.6Q372.1 84.9 370.8 84.9H358.4Q357.1 84.9 357.1 83.6V71.1Q357.1 69.8 358.4 69.8Z" fill="#333"/>
<rect x="361.1" y="71.1" width="6.8" height="4.1" fill="#fff"/>
<rect x="365.3" y="71.5" width="1.9" height="2.7" fill="#333"/>
<rect x="359" y="77.3" width="11" height="6.1" rx="1" fill="#fff"/>
<rect x="390" y="75.9" width="13" height="3" rx="0.5" fill="#000"/>
<rect x="422" y="75.9" width="13" height="3" rx="0.5" fill="#000"/>
<rect x="427" y="70.9" width="3.1" height="13" rx="0.5" fill="#000"/>
</g>
<!-- drawing tools -->
<g>
<path d="M1575.4 955.3L1578.6 952.7L1583.6 958L1585.4 956.9L1587.2 964.7L1578.9 962.5L1580.5 960.8Z" fill="#5a5a5a"/>
<path d="M1600.2 964.4C1599.4 960 1600.5 958.5 1604 958.3L1608 958.1C1611.5 957.8 1612.3 956 1612.2 952" fill="none" stroke="#5a5a5a" stroke-width="2.8" stroke-linecap="round"/>
<path d="M1620.2 949.8H1639.8M1620.2 967.9H1639.8" stroke="#5a5a5a" stroke-width="1.6"/>
<path d="M1620.2 954H1623.9M1627.8 954H1632.7M1636 954H1639.8M1620.2 964.1H1623.9M1627.8 964.1H1632.7M1636 964.1H1639.8" stroke="#5a5a5a" stroke-width="1.9"/>
<path d="M1620.2 958.6H1623.9M1627.8 958.6H1632.7M1636 958.6H1639.8M1620.2 960.3H1623.9M1627.8 960.3H1632.7M1636 960.3H1639.8" stroke="#cfcfcf" stroke-width="1"/>
<path d="M1644.5 949V968.4H1663.8M1644.5 968.4L1654.4 952M1644.5 968.4L1661.7 958.3" fill="none" stroke="#5a5a5a" stroke-width="1.1"/>
<path d="M1668.2 958.6H1687.8" stroke="#5a5a5a" stroke-width="1.4"/>
<path d="M1694.4 951.2L1709.4 966.6" stroke="#5a5a5a" stroke-width="1.3"/>
<rect x="1692.2" y="949.2" width="4.4" height="4.2" rx="0.8" fill="#5a5a5a"/>
<circle cx="1709.4" cy="966.6" r="2.4" fill="#5a5a5a"/>
<rect x="1716.2" y="949.2" width="19.6" height="19.5" fill="#999"/>
<rect x="1718.6" y="951.6" width="14.8" height="14.9" fill="none" stroke="#444" stroke-width="0.9"/>
<text x="1742.2" y="960.8" font-size="9" fill="#6a6a6a" textLength="15.8" lengthAdjust="spacingAndGlyphs">Abc</text>
<path d="M1741.2 962.6H1758.8" stroke="#6a6a6a" stroke-width="0.9"/>
<path d="M1767 965.3L1780.6 952.2" stroke="#666" stroke-width="1.1"/>
<path d="M1797.9 950.2V968.7" stroke="#888" stroke-width="1.7"/>
<g transform="translate(1820.8 960) rotate(-44.8)"><rect x="-9.3" y="-2.4" width="18.6" height="4.8" fill="#666"/><path d="M-7 2.4V0.6M-4.7 2.4V0.6M-2.4 2.4V0.6M-0.1 2.4V0.6M2.2 2.4V0.6M4.5 2.4V0.6M6.8 2.4V0.6" stroke="#eee" stroke-width="0.7"/></g>
<path d="M1838.6 955.3L1845.6 962.3M1845.6 955.3L1838.6 962.3" stroke="#9a9a9a" stroke-width="2.1"/>
</g>
<!-- menu arrows -->
<path d="M48.3 75.4H58.8L53.55 81ZM143.1 75.4H153.6L148.35 81ZM224.1 75.4H234.6L229.35 81ZM291.4 75.4H301.9L296.65 81Z" fill="#4d4d4d"/>
<!-- window controls -->
<path d="M1800 9.5H1810" stroke="#8c8c8c" stroke-width="1"/>
<path d="M1848.5 6.5V4.5H1855.5V11.5H1853.5" fill="none" stroke="#8c8c8c" stroke-width="1"/>
<rect x="1846.5" y="6.5" width="7" height="7" fill="none" stroke="#8c8c8c" stroke-width="1"/>
<path d="M1892 4L1902 14M1902 4L1892 14" stroke="#8c8c8c" stroke-width="1"/>
<!-- window title -->
<text x="27" y="14.9" font-size="11.75" fill="#9a9a9a" textLength="177" lengthAdjust="spacingAndGlyphs">Spot, USD/CAD - Google Chrome</text>
<!-- chart title -->
<text x="16.3" y="125.6" font-size="10.5" font-weight="bold" fill="#222" textLength="85.5" lengthAdjust="spacing">SPOT, USD/CAD</text>

</svg>
</body></html>
